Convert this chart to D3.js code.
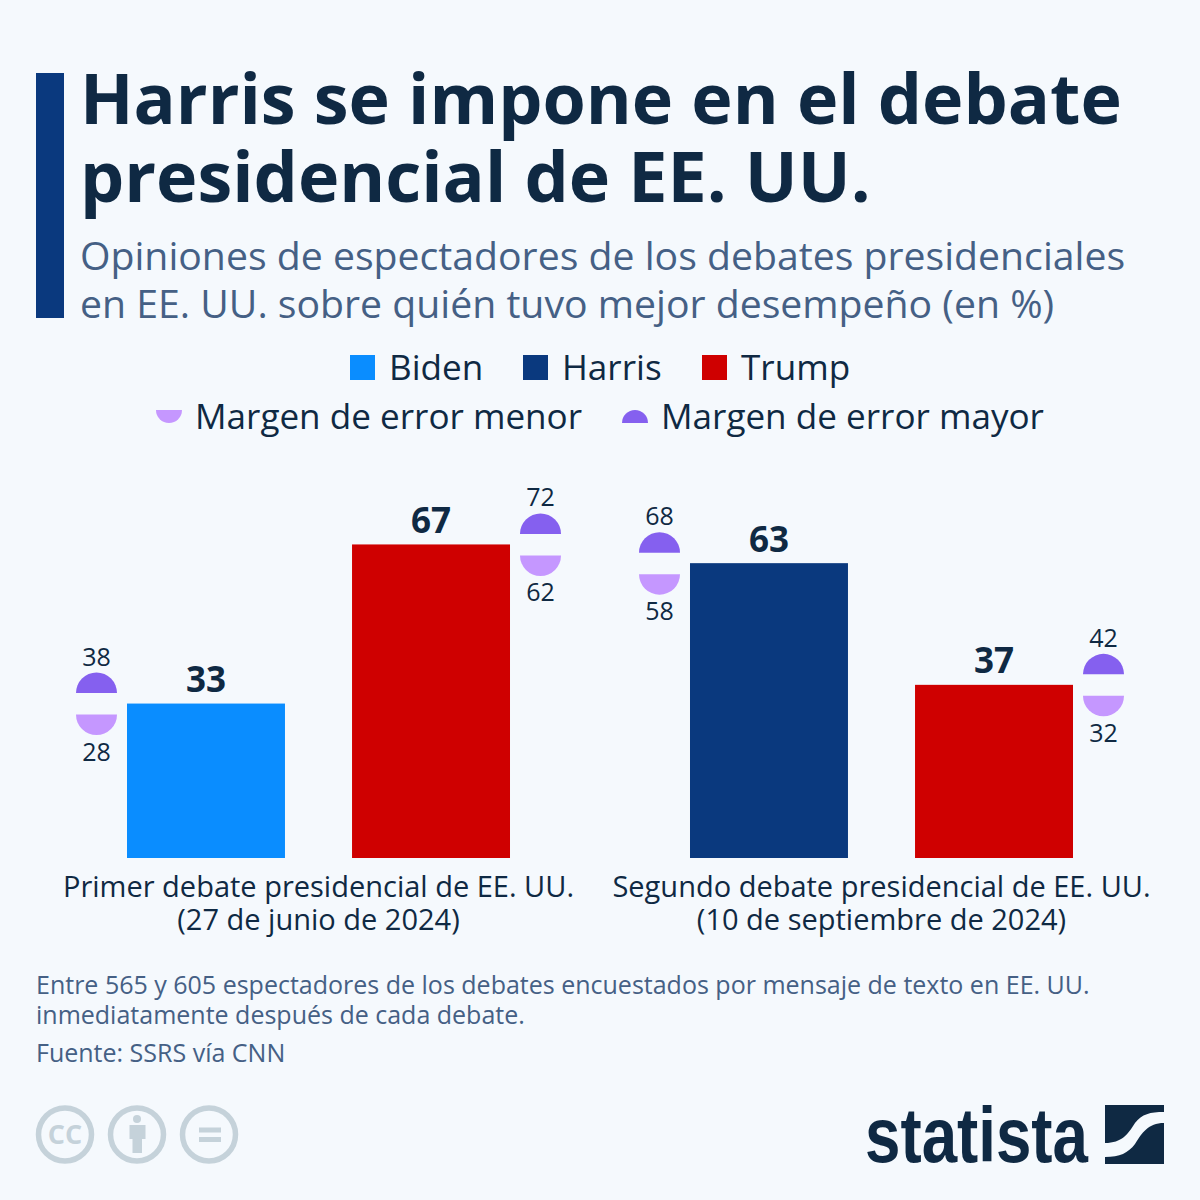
<!DOCTYPE html>
<html>
<head>
<meta charset="utf-8">
<script src="https://cdn.jsdelivr.net/npm/d3@7/dist/d3.min.js"></script>
<style>
html, body { margin: 0; padding: 0; background: #f5f9fd; }
svg { display: block; }
text { font-family: "Open Sans", sans-serif; }
</style>
</head>
<body>
<svg id="chart" width="1200" height="1200"></svg>
<script>
// Daten
const debates = ["Primer debate", "Segundo debate"];
const debateLine1 = ["Primer debate presidencial de EE. UU.", "Segundo debate presidencial de EE. UU."];
const debateLine2 = ["(27 de junio de 2024)", "(10 de septiembre de 2024)"];
const candidates = ["Biden", "Harris", "Trump"];
const colors = ["#0a8dff", "#0a397e", "#cf0000"];

const barDebate = [0, 0, 1, 1];
const barCandidate = ["Biden", "Trump", "Harris", "Trump"];
const barSlot = [0, 1, 0, 1];
const barValues = [33, 67, 63, 37];
const marginHigh = [38, 72, 68, 42];
const marginLow = [28, 62, 58, 32];

const titleLines = ["Harris se impone en el debate", "presidencial de EE. UU."];
const subtitleLines = ["Opiniones de espectadores de los debates presidenciales", "en EE. UU. sobre quién tuvo mejor desempeño (en %)"];
const noteLines = ["Entre 565 y 605 espectadores de los debates encuestados por mensaje de texto en EE. UU.", "inmediatamente después de cada debate."];
const sourceLine = "Fuente: SSRS vía CNN";

const dark = "#0f2943";
const grey = "#456085";
const purpleDark = "#8560ef";
const purpleLight = "#c597ff";
const iconGrey = "#c5d2da";

const svg = d3.select("#chart");

// Hintergrund + Kopf
svg.append("rect").attr("width", 1200).attr("height", 1200).attr("fill", "#f5f9fd");
svg.append("rect").attr("x", 36).attr("y", 73).attr("width", 28).attr("height", 245).attr("fill", "#0a397e");

svg.selectAll(".title").data(titleLines).enter().append("text")
    .attr("class", "title")
    .attr("x", 80).attr("y", (d, i) => 124 + i * 78)
    .attr("font-size", 70).attr("font-weight", 700).attr("fill", dark)
    .text(d => d);

svg.selectAll(".subtitle").data(subtitleLines).enter().append("text")
    .attr("class", "subtitle")
    .attr("x", 80).attr("y", (d, i) => 270 + i * 48)
    .attr("font-size", 39.2).attr("fill", grey)
    .text(d => d);

// Halbkreise
const arcUp = d3.arc().innerRadius(0).outerRadius(20.5).startAngle(-Math.PI / 2).endAngle(Math.PI / 2);
const arcDown = d3.arc().innerRadius(0).outerRadius(20.5).startAngle(Math.PI / 2).endAngle(Math.PI * 1.5);
const arcUpSmall = d3.arc().innerRadius(0).outerRadius(13).startAngle(-Math.PI / 2).endAngle(Math.PI / 2);
const arcDownSmall = d3.arc().innerRadius(0).outerRadius(13).startAngle(Math.PI / 2).endAngle(Math.PI * 1.5);

// Legende
const legendX = [350, 523, 702];
candidates.forEach((c, i) => {
    svg.append("rect").attr("x", legendX[i]).attr("y", 355).attr("width", 25).attr("height", 25).attr("fill", colors[i]);
    svg.append("text").attr("x", legendX[i] + 39).attr("y", 380)
        .attr("font-size", 35.1).attr("fill", dark).text(c);
});
svg.append("path").attr("d", arcDownSmall()).attr("transform", "translate(169,410)").attr("fill", purpleLight);
svg.append("text").attr("x", 195).attr("y", 429).attr("font-size", 35.1).attr("fill", dark).text("Margen de error menor");
svg.append("path").attr("d", arcUpSmall()).attr("transform", "translate(635,423)").attr("fill", purpleDark);
svg.append("text").attr("x", 661).attr("y", 429).attr("font-size", 35.1).attr("fill", dark).text("Margen de error mayor");

// Skalen
const x0 = d3.scaleBand().domain(debates).range([127, 1073]).paddingInner(0.3197);
const x1 = d3.scaleBand().domain([0, 1]).range([0, x0.bandwidth()]).paddingInner(0.298);
const y = d3.scaleLinear().domain([0, 100]).range([858, 390]);

const bars = barValues.map((v, i) => ({
    value: v,
    high: marginHigh[i],
    low: marginLow[i],
    color: colors[candidates.indexOf(barCandidate[i])],
    slot: barSlot[i],
    left: x0(debates[barDebate[i]]) + x1(barSlot[i])
}));

svg.selectAll(".bar").data(bars).enter().append("rect")
    .attr("class", "bar")
    .attr("x", d => d.left)
    .attr("y", d => y(d.value))
    .attr("width", x1.bandwidth())
    .attr("height", d => y(0) - y(d.value))
    .attr("fill", d => d.color);

svg.selectAll(".value").data(bars).enter().append("text")
    .attr("class", "value")
    .attr("x", d => d.left + x1.bandwidth() / 2)
    .attr("y", d => y(d.value) - 11.5)
    .attr("text-anchor", "middle")
    .attr("font-size", 35).attr("font-weight", 700).attr("fill", dark)
    .text(d => d.value);

// Fehlermarken neben dem Balken
const markerX = d => d.slot === 0 ? d.left - 30.5 : d.left + x1.bandwidth() + 30.5;
const marks = svg.selectAll(".mark").data(bars).enter().append("g")
    .attr("class", "mark")
    .attr("transform", d => `translate(${markerX(d)},${y(d.value)})`);
marks.append("path").attr("d", arcUp()).attr("transform", "translate(0,-10.5)").attr("fill", purpleDark);
marks.append("path").attr("d", arcDown()).attr("transform", "translate(0,11)").attr("fill", purpleLight);
marks.append("text").attr("y", -38).attr("text-anchor", "middle")
    .attr("font-size", 25).attr("fill", dark).text(d => d.high);
marks.append("text").attr("y", 57).attr("text-anchor", "middle")
    .attr("font-size", 25).attr("fill", dark).text(d => d.low);

// Kategorien
debates.forEach((d, i) => {
    const cx = x0(d) + x0.bandwidth() / 2;
    svg.append("text").attr("x", cx).attr("y", 897).attr("text-anchor", "middle")
        .attr("font-size", 29).attr("fill", dark).text(debateLine1[i]);
    svg.append("text").attr("x", cx).attr("y", 930).attr("text-anchor", "middle")
        .attr("font-size", 29).attr("fill", dark).text(debateLine2[i]);
});

// Fussnote
svg.selectAll(".note").data(noteLines).enter().append("text")
    .attr("class", "note")
    .attr("x", 36).attr("y", (d, i) => 994 + i * 30)
    .attr("font-size", 25).attr("fill", grey)
    .text(d => d);
svg.append("text").attr("x", 36).attr("y", 1062).attr("font-size", 25).attr("fill", grey).text(sourceLine);

// CC-Symbole
const icons = svg.append("g");
[65, 137, 209].forEach(cx => {
    icons.append("circle").attr("cx", cx).attr("cy", 1134.5).attr("r", 26.5)
        .attr("fill", "none").attr("stroke", iconGrey).attr("stroke-width", 5.5);
});
icons.append("text").attr("x", 65).attr("y", 1144).attr("text-anchor", "middle")
    .attr("font-size", 27).attr("font-weight", 700).attr("fill", iconGrey).text("cc".toUpperCase());
icons.append("circle").attr("cx", 137).attr("cy", 1119).attr("r", 4).attr("fill", iconGrey);
icons.append("path").attr("fill", iconGrey).attr("d", "M129.5 1125h16v14h-3.5v14h-9.5v-14h-3z");
icons.append("rect").attr("x", 199).attr("y", 1127.5).attr("width", 22).attr("height", 5).attr("fill", iconGrey);
icons.append("rect").attr("x", 199).attr("y", 1137).attr("width", 22).attr("height", 5).attr("fill", iconGrey);

// Logo
svg.append("text")
    .attr("x", 865).attr("y", 1162)
    .style("font-family", "'Liberation Sans Narrow', 'Liberation Sans', sans-serif")
    .attr("font-size", 78).attr("font-weight", 700).attr("fill", dark)
    .attr("textLength", 223).attr("lengthAdjust", "spacingAndGlyphs")
    .text("statista");
svg.append("path").attr("fill", dark)
    .attr("d", "M1105 1105H1164V1112C1150 1112 1142 1114 1135 1123C1128 1134 1122 1143 1105 1143Z");
svg.append("path").attr("fill", dark)
    .attr("d", "M1164 1123V1164H1105V1157C1120 1157 1128 1153 1135 1144C1142 1133 1148 1123 1164 1123Z");
</script>
</body>
</html>
